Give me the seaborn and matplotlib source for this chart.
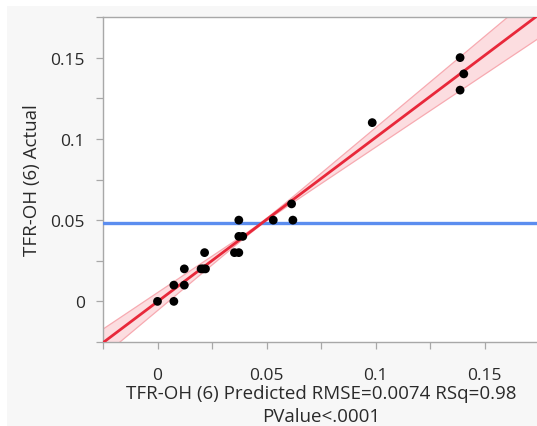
import numpy as np
import pandas as pd
import matplotlib
matplotlib.use("Agg")
import matplotlib.pyplot as plt
import seaborn as sns
from matplotlib.patches import Rectangle
from matplotlib.ticker import MultipleLocator

# Actual by Predicted values
predicted = [0.0000, 0.0075, 0.0075, 0.0123, 0.0123, 0.0200, 0.0210, 0.0220,
             0.0216, 0.0353, 0.0373, 0.0373, 0.0391, 0.0373, 0.0531, 0.0621,
             0.0615, 0.0985, 0.1388, 0.1405, 0.1388]
actual = [0.00, 0.00, 0.01, 0.01, 0.02, 0.02, 0.02, 0.02,
          0.03, 0.03, 0.03, 0.04, 0.04, 0.05, 0.05, 0.05,
          0.06, 0.11, 0.15, 0.14, 0.13]
rmse = 0.0074
x_ticks = [0, 0.05, 0.1, 0.15]
y_ticks = [0, 0.05, 0.1, 0.15]
x_ticklabels = ["0", "0.05", "0.1", "0.15"]
y_ticklabels = ["0", "0.05", "0.1", "0.15"]
xlabel = "TFR-OH (6) Predicted RMSE=0.0074 RSq=0.98\nPValue<.0001"
ylabel = "TFR-OH (6) Actual"

df = pd.DataFrame({"pred": predicted, "act": actual})

sns.set_style("white")
plt.rcParams["font.family"] = ["Open Sans", "DejaVu Sans"]

fig = plt.figure(figsize=(5.37, 4.27), dpi=100, facecolor="white")
# light gray panel behind the plot
fig.patches.append(Rectangle((7 / 537, 0), 1, 1 - 7 / 427, transform=fig.transFigure,
                             facecolor="#f7f7f7", edgecolor="none", zorder=-1))
ax = fig.add_axes([103 / 537, 1 - 343 / 427, 436 / 537, 325 / 427])
ax.set_facecolor("white")
ax.set_xlim(-0.025, 0.175)
ax.set_ylim(-0.025, 0.175)

# fit line + confidence curves
xs = np.linspace(-0.025, 0.175, 200)
slope, inter = np.polyfit(df.pred, df.act, 1)
n = len(df)
xbar = df.pred.mean()
sxx = ((df.pred - xbar) ** 2).sum()
crit = np.sqrt(2 * 3.555) * 1.15
half = crit * rmse * np.sqrt(0.02 / n + (xs - xbar) ** 2 / sxx)
fit = slope * xs + inter
ax.fill_between(xs, fit - half, fit + half, facecolor="#fcdde0", edgecolor="none", zorder=1)
ax.plot(xs, fit - half, color="#f7aab1", lw=0.9, zorder=2)
ax.plot(xs, fit + half, color="#f7aab1", lw=0.9, zorder=2)

ax.axhline(df.act.mean(), color="#5b8def", lw=2.4, zorder=3)

sns.regplot(data=df, x="pred", y="act", ax=ax, ci=None, truncate=False,
            scatter=False, line_kws=dict(color="#e8283a", lw=2.0, zorder=4))
sns.scatterplot(data=df, x="pred", y="act", ax=ax, color="black", s=40,
                edgecolor="none", zorder=5)

ax.set_xlim(-0.025, 0.175)
ax.set_ylim(-0.025, 0.175)
ax.set_xticks(x_ticks)
ax.set_xticklabels(x_ticklabels)
ax.set_yticks(y_ticks)
ax.set_yticklabels(y_ticklabels)
ax.xaxis.set_minor_locator(MultipleLocator(0.025))
ax.yaxis.set_minor_locator(MultipleLocator(0.025))
for axis in (ax.xaxis, ax.yaxis):
    axis.set_tick_params(which="both", direction="out", length=5, width=0.9,
                         color="#a8a8a8", labelsize=12.5, labelcolor="#2a2a2a")
ax.tick_params(which="both", bottom=True, left=True)
ax.tick_params(axis="y", pad=8)
ax.tick_params(axis="x", pad=13)

for side in ("left", "bottom", "top"):
    ax.spines[side].set_color("#a8a8a8")
    ax.spines[side].set_linewidth(1.0)
ax.spines["right"].set_visible(False)

ax.set_xlabel(xlabel, fontsize=13.5, color="#2a2a2a", linespacing=1.35, labelpad=1)
ax.set_ylabel(ylabel, fontsize=13.5, color="#2a2a2a", labelpad=7)

fig.savefig("out.png", dpi=100)
